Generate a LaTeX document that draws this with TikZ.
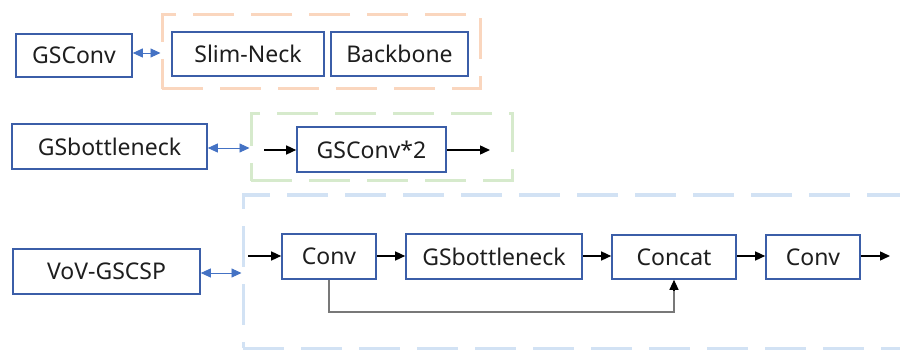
\documentclass[tikz,border=0pt]{standalone}
\usepackage{fontspec}
\setmainfont{Noto Sans}
\usetikzlibrary{arrows.meta}
\definecolor{boxblue}{RGB}{59,94,168}
\definecolor{arrblue}{RGB}{68,114,196}
\definecolor{txt}{RGB}{30,30,30}
\definecolor{dorange}{RGB}{250,214,190}
\definecolor{dgreen}{RGB}{214,234,204}
\definecolor{dblue}{RGB}{210,226,244}
\definecolor{loopgray}{RGB}{120,120,120}
\tikzset{
  box/.style={draw=boxblue, line width=1.6pt, fill=white, text=txt, inner sep=0pt,
    font=\fontsize{23}{26}\selectfont},
  frame/.style={line width=3pt, dash pattern=on 41pt off 17pt, inner sep=0pt},
  dblarrow/.style={draw=arrblue, line width=0.9pt, {Triangle[length=10pt,width=9pt]}-{Triangle[length=10pt,width=9pt]}},
  flow/.style={draw=black, line width=1.4pt, -{Triangle[length=10pt,width=9pt]}}
}
\begin{document}
\begin{tikzpicture}[x=1pt,y=-1pt]
\useasboundingbox (0,0) rectangle (900,350);
% dashed frames
\node[frame, draw=dorange, minimum width=318pt, minimum height=74pt] (orange) at (321,52) {};
\node[frame, draw=dgreen, minimum width=261pt, minimum height=67pt] (green) at (381.5,147.5) {};
\node[frame, draw=dblue, minimum width=662pt, minimum height=153pt] (blue) at (574,271.5) {};
% row 1
\node[box, minimum width=116pt, minimum height=43pt] (gsconv) at (74,55.5) {GSConv};
\node[box, minimum width=152pt, minimum height=44pt] (slim) at (248,54) {Slim-Neck};
\node[box, minimum width=137pt, minimum height=44pt] (backbone) at (399.5,54) {Backbone};
\draw[dblarrow] (gsconv.east |- 0,53) -- (orange.west |- 0,53);
% row 2
\node[box, minimum width=195pt, minimum height=45pt] (gsb) at (109.5,146.5) {GSbottleneck};
\node[box, minimum width=149pt, minimum height=45pt] (gsc2) at (371.5,149.5) {GSConv*2};
\draw[dblarrow] (gsb.east |- 0,148) -- (green.west |- 0,148);
\coordinate (in2) at (264,150);
\coordinate (out2) at (490,150);
\draw[flow] (in2) -- (gsc2.west |- in2);
\draw[flow] (gsc2.east |- out2) -- (out2);
% row 3
\node[box, minimum width=187pt, minimum height=45pt] (vov) at (106.5,271.5) {VoV-GSCSP};
\draw[dblarrow] (vov.east |- 0,273) -- (blue.west |- 0,273);
\node[box, minimum width=94pt, minimum height=45pt] (conv1) at (329,256.5) {Conv};
\node[box, minimum width=176pt, minimum height=45pt] (gsb3) at (494,256.5) {GSbottleneck};
\node[box, minimum width=124pt, minimum height=44pt] (concat) at (674,257) {Concat};
\node[box, minimum width=94pt, minimum height=44pt] (conv2) at (813,257) {Conv};
\coordinate (in3) at (248,256);
\coordinate (out3) at (890,256);
\draw[flow] (in3) -- (conv1.west |- in3);
\draw[flow] (conv1.east |- 0,256) -- (gsb3.west |- 0,256);
\draw[flow] (gsb3.east |- 0,256) -- (concat.west |- 0,256);
\draw[flow] (concat.east |- 0,256) -- (conv2.west |- 0,256);
\draw[flow] (conv2.east |- out3) -- (out3);
\draw[draw=loopgray, line width=1.2pt] (conv1.south) -- (conv1.south |- 0,312) -- (concat.south |- 0,312) -- ([yshift=-9pt]concat.south);
\draw[draw=black, line width=1.2pt, -{Triangle[length=10pt,width=9pt]}] ([yshift=-11pt]concat.south) -- (concat.south);
\end{tikzpicture}
\end{document}
